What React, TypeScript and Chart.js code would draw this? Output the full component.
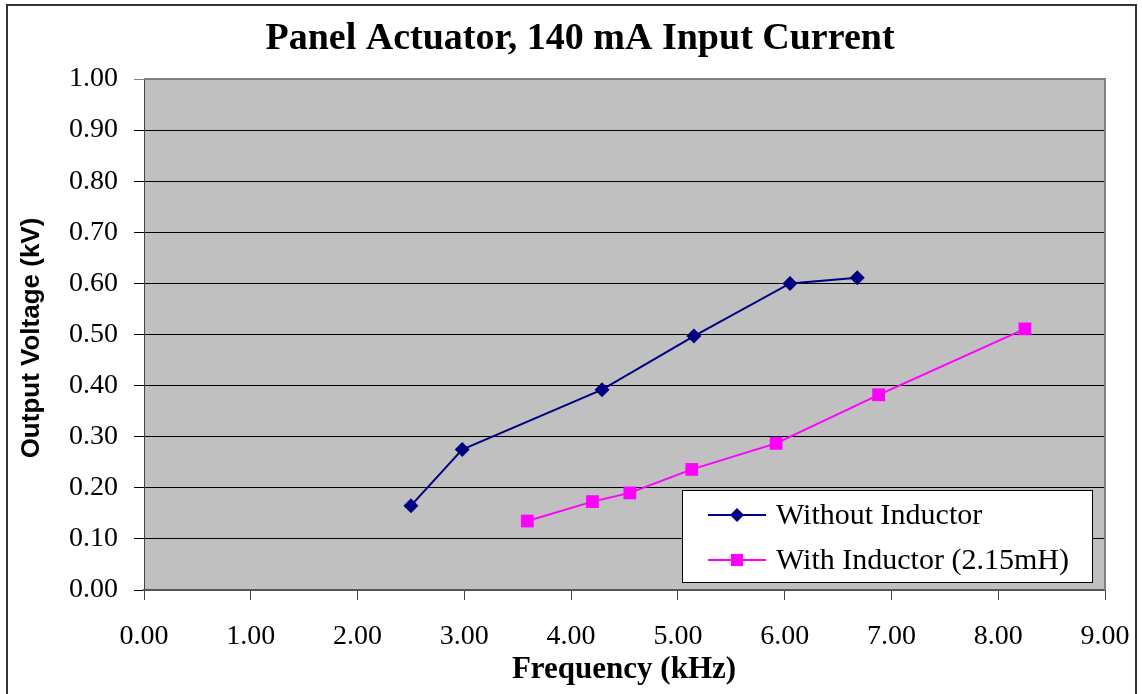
import React, { useEffect, useRef } from "react";
import { Chart, registerables } from "chart.js";

Chart.register(...registerables);

const TITLE = "Panel Actuator, 140 mA Input Current";
const X_TITLE = "Frequency (kHz)";
const Y_TITLE = "Output Voltage (kV)";

const SERIES_NAMES = ["Without Inductor", "With Inductor (2.15mH)"];

const withoutFreq = [2.5, 2.98, 4.29, 5.15, 6.05, 6.68];
const withoutVolt = [0.165, 0.275, 0.392, 0.497, 0.6, 0.611];

const withFreq = [3.59, 4.2, 4.55, 5.13, 5.92, 6.88, 8.25];
const withVolt = [0.135, 0.173, 0.19, 0.236, 0.287, 0.382, 0.511];

const X_MIN = 0, X_MAX = 9, X_STEP = 1;
const Y_MIN = 0, Y_MAX = 1, Y_STEP = 0.1;

const NAVY = "#000080";
const MAGENTA = "#FF00FF";
const PLOT_BG = "#C0C0C0";

const decorPlugin = {
  id: "decor",
  beforeDraw(chart: any) {
    const { ctx, chartArea } = chart;
    ctx.save();
    ctx.fillStyle = "#ffffff";
    ctx.fillRect(0, 0, chart.width, chart.height);
    ctx.fillStyle = PLOT_BG;
    ctx.fillRect(chartArea.left, chartArea.top, chartArea.right - chartArea.left, chartArea.bottom - chartArea.top);
    ctx.restore();
  },
  afterDatasetsDraw(chart: any) {
    const { ctx, chartArea } = chart;
    ctx.save();
    // plot border (top/right)
    ctx.strokeStyle = "#808080";
    ctx.lineWidth = 2;
    ctx.beginPath();
    ctx.moveTo(chartArea.left, chartArea.top);
    ctx.lineTo(chartArea.right, chartArea.top);
    ctx.lineTo(chartArea.right, chartArea.bottom);
    ctx.stroke();

    // legend
    const lx = 682.5, ly = 490.5, lw = 410, lh = 92;
    ctx.fillStyle = "#ffffff";
    ctx.fillRect(lx, ly, lw, lh);
    ctx.strokeStyle = "#000000";
    ctx.lineWidth = 1;
    ctx.strokeRect(lx, ly, lw, lh);
    const items = chart.data.datasets;
    const rowsY = [515, 560];
    items.forEach((ds: any, i: number) => {
      const y = rowsY[i];
      ctx.strokeStyle = ds.borderColor;
      ctx.lineWidth = 2;
      ctx.beginPath();
      ctx.moveTo(708, y);
      ctx.lineTo(766, y);
      ctx.stroke();
      ctx.fillStyle = ds.backgroundColor;
      if (ds.pointStyle === "rectRot") {
        const r = 7;
        ctx.beginPath();
        ctx.moveTo(737, y - r);
        ctx.lineTo(737 + r, y);
        ctx.lineTo(737, y + r);
        ctx.lineTo(737 - r, y);
        ctx.closePath();
        ctx.fill();
      } else {
        ctx.fillRect(737 - 6, y - 6, 12, 12);
      }
      ctx.fillStyle = "#000000";
      ctx.font = "30px 'Liberation Serif', serif";
      ctx.textAlign = "left";
      ctx.textBaseline = "middle";
      ctx.fillText(ds.label, 776, y + 1);
    });

    // title
    ctx.fillStyle = "#000000";
    ctx.font = "bold 38px 'Liberation Serif', serif";
    ctx.textAlign = "center";
    ctx.textBaseline = "middle";
    ctx.fillText(TITLE, 580, 39);

    // x title
    ctx.font = "bold 31px 'Liberation Serif', serif";
    ctx.fillText(X_TITLE, 624, 670);

    // y title
    ctx.save();
    ctx.translate(32, 338);
    ctx.rotate(-Math.PI / 2);
    ctx.font = "bold 26px 'Liberation Sans', Arial, sans-serif";
    ctx.fillText(Y_TITLE, 0, 0);
    ctx.restore();

    // outer frame
    ctx.strokeStyle = "#333333";
    ctx.lineWidth = 2;
    ctx.strokeRect(7, 5, 1129, 800);
    ctx.restore();
  },
};

export default function App() {
  const canvasRef = useRef<HTMLCanvasElement | null>(null);

  useEffect(() => {
    const canvas = canvasRef.current;
    if (!canvas) return;
    const chart = new Chart(canvas, {
      type: "line",
      data: {
        datasets: [
          {
            label: SERIES_NAMES[0],
            data: withoutFreq.map((x, i) => ({ x, y: withoutVolt[i] })),
            borderColor: NAVY,
            backgroundColor: NAVY,
            borderWidth: 2,
            pointStyle: "rectRot",
            pointRadius: 7.5,
            pointBorderWidth: 0,
            tension: 0,
          },
          {
            label: SERIES_NAMES[1],
            data: withFreq.map((x, i) => ({ x, y: withVolt[i] })),
            borderColor: MAGENTA,
            backgroundColor: MAGENTA,
            borderWidth: 2,
            pointStyle: "rect",
            pointRadius: 9,
            pointBorderWidth: 0,
            tension: 0,
          },
        ],
      },
      options: {
        responsive: false,
        animation: false,
        devicePixelRatio: 1,
        layout: { padding: { top: 79, right: 37, left: 0, bottom: 0 } },
        plugins: {
          legend: { display: false },
          title: { display: false },
          tooltip: { enabled: false },
        },
        scales: {
          x: {
            type: "linear",
            min: X_MIN,
            max: X_MAX,
            afterFit: (scale: any) => {
              scale.height = 104;
              scale.paddingLeft = 0;
              scale.paddingRight = 0;
            },
            ticks: {
              stepSize: X_STEP,
              color: "#000",
              padding: 20,
              maxRotation: 0,
              font: { family: "'Liberation Serif', serif", size: 28 },
              callback: (v: any) => Number(v).toFixed(2),
            },
            grid: {
              drawOnChartArea: false,
              tickLength: 10,
              color: "#444",
              lineWidth: 1,
            },
            border: { color: "#555", width: 2 },
          },
          y: {
            type: "linear",
            min: Y_MIN,
            max: Y_MAX,
            afterFit: (scale: any) => {
              scale.width = 144;
              scale.paddingTop = 0;
              scale.paddingBottom = 0;
            },
            ticks: {
              stepSize: Y_STEP,
              color: "#000",
              padding: 16,
              font: { family: "'Liberation Serif', serif", size: 28 },
              callback: (v: any) => Number(v).toFixed(2),
            },
            grid: {
              tickLength: 10,
              color: (c: any) => (c.tick && c.tick.value >= 0.999 ? "#808080" : "#000"),
              lineWidth: 1,
            },
            border: { color: "#444", width: 1 },
          },
        },
      },
      plugins: [decorPlugin],
    } as any);
    return () => chart.destroy();
  }, []);

  return (
    <div style={{ position: "absolute", left: 0, top: 0, width: 1142, height: 694 }}>
      <canvas ref={canvasRef} width={1142} height={694} style={{ display: "block" }} />
    </div>
  );
}
